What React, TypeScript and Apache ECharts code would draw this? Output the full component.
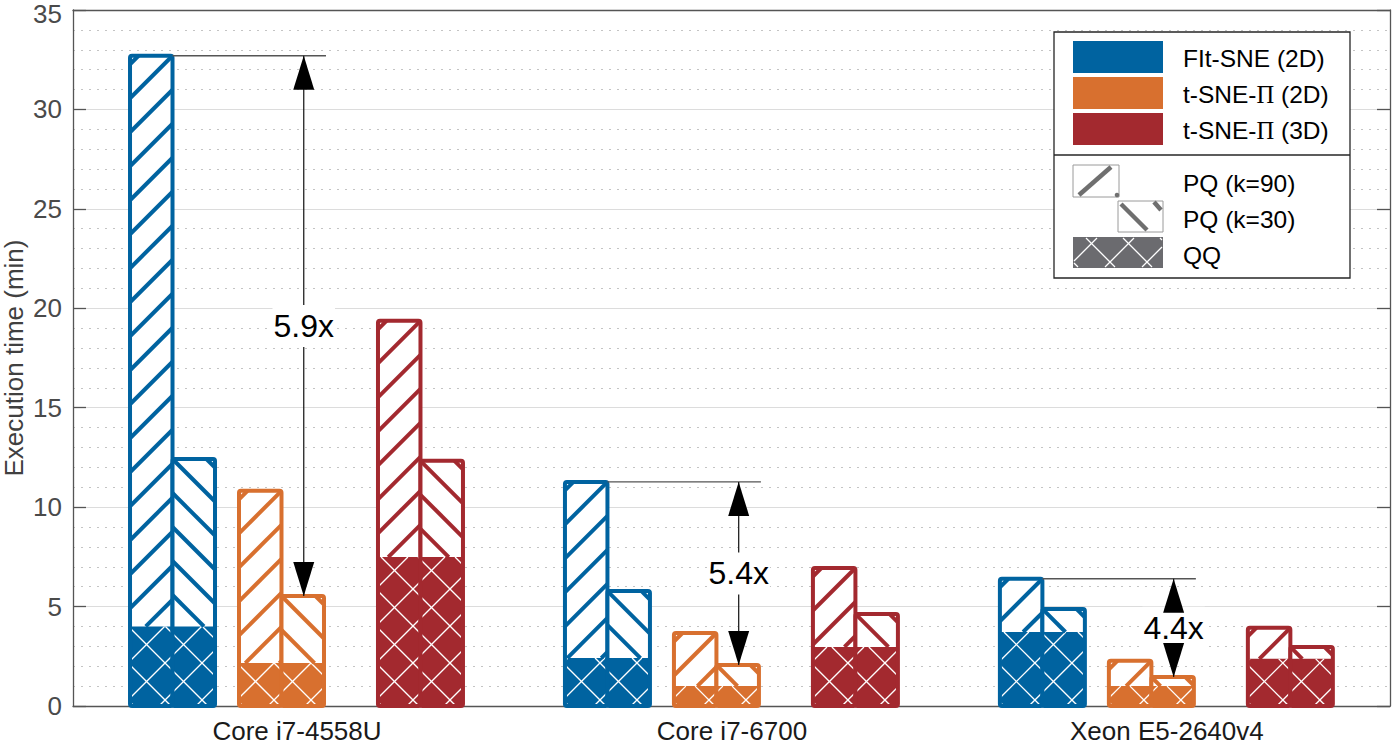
import React, { useEffect, useRef } from 'react';
import * as echarts from 'echarts';

// ---------------- data ----------------
const categories = ['Core i7-4558U', 'Core i7-6700', 'Xeon E5-2640v4'];
const fitsneQQ = [4.0, 2.41, 3.72];
const fitsneK90 = [32.7, 11.27, 6.4];
const fitsneK30 = [12.42, 5.78, 4.88];
const tsne2dQQ = [2.16, 1.0, 1.0];
const tsne2dK90 = [10.82, 3.67, 2.27];
const tsne2dK30 = [5.53, 2.06, 1.46];
const tsne3dQQ = [7.49, 2.97, 2.37];
const tsne3dK90 = [19.37, 6.94, 3.93];
const tsne3dK30 = [12.33, 4.63, 2.97];
const speedupLabels = ['5.9x', '5.4x', '4.4x'];
const methodNames = ['FIt-SNE (2D)', 't-SNE-Π (2D)', 't-SNE-Π (3D)'];
const patternNames = ['PQ (k=90)', 'PQ (k=30)', 'QQ'];

// ---------------- styling / layout ----------------
const FONT = "'Liberation Sans', Arial, Helvetica, sans-serif";
const BLUE = '#0063A0';
const ORANGE = '#D8702F';
const RED = '#A3292F';
const COLORS = [BLUE, ORANGE, RED];
const REF_UNIT = 435; // px per category unit in layout constants below
const PAIR_OFF = [-169, -60, 79]; // px offset of each bar pair from group centre
const PAIR_W = 89;
const LW = 4;
const HATCH_S = 34;
const DIAM_S = 37;

type Seg = [number, number, number, number];

function diagLines(x0: number, y0: number, x1: number, y1: number, anchorX: number, anchorY: number, S: number, slash: boolean): Seg[] {
  const out: Seg[] = [];
  if (x1 - x0 < 0.5 || y1 - y0 < 0.5) return out;
  if (slash) {
    const a = anchorX + anchorY;
    const nMin = Math.ceil((x0 + y0 - a) / S);
    const nMax = Math.floor((x1 + y1 - a) / S);
    for (let n = nMin; n <= nMax; n++) {
      const c = a + n * S;
      const xs = Math.max(x0, c - y1);
      const xe = Math.min(x1, c - y0);
      if (xe - xs > 0.3) out.push([xs, c - xs, xe, c - xe]);
    }
  } else {
    const a = anchorY - anchorX;
    const nMin = Math.ceil((y0 - x1 - a) / S);
    const nMax = Math.floor((y1 - x0 - a) / S);
    for (let n = nMin; n <= nMax; n++) {
      const c = a + n * S;
      const xs = Math.max(x0, y0 - c);
      const xe = Math.min(x1, y1 - c);
      if (xe - xs > 0.3) out.push([xs, xs + c, xe, xe + c]);
    }
  }
  return out;
}

function segEls(segs: Seg[], stroke: string, lineWidth: number) {
  return segs.map((s) => ({
    type: 'line',
    shape: { x1: s[0], y1: s[1], x2: s[2], y2: s[3] },
    style: { stroke, lineWidth, lineCap: 'butt' },
  }));
}

function barSeries(name: string, totals: number[], qqs: number[], pairIdx: number, isK30: boolean) {
  const color = COLORS[pairIdx];
  return {
    type: 'custom',
    name,
    coordinateSystem: 'cartesian2d',
    xAxisIndex: 0,
    yAxisIndex: 0,
    encode: { x: 0, y: [1, 2] },
    data: totals.map((t, i) => [i + 1, t, qqs[i]]),
    renderItem: (params: any, api: any) => {
      const g = api.value(0);
      const total = api.value(1);
      const qq = api.value(2);
      const scale = api.size([1, 0])[0] / REF_UNIT;
      const base = api.coord([g, 0]);
      const cx = base[0];
      const y0 = base[1];
      const yT = api.coord([g, total])[1];
      const yQ = api.coord([g, qq])[1];
      const pairL = cx + PAIR_OFF[pairIdx] * scale;
      const pairW = PAIR_W * scale;
      const mid = pairL + pairW / 2;
      const xl = isK30 ? mid : pairL + LW / 2;
      const xr = isK30 ? pairL + pairW - LW / 2 : mid;
      const children: any[] = [];
      children.push({ type: 'rect', shape: { x: xl, y: yT, width: xr - xl, height: y0 - yT }, style: { fill: '#fff' } });
      children.push({ type: 'rect', shape: { x: xl, y: yQ, width: xr - xl, height: y0 - yQ }, style: { fill: color } });
      const ax = pairL;
      const ay = y0 - 6;
      children.push(...segEls(diagLines(xl, yQ, xr, y0, ax, ay, DIAM_S, true), '#ffffff', 1.3));
      children.push(...segEls(diagLines(xl, yQ, xr, y0, ax, ay, DIAM_S, false), '#ffffff', 1.3));
      if (isK30) {
        children.push(...segEls(diagLines(xl, yT, xr, yQ, xl, yT, HATCH_S, false), color, LW));
      } else {
        children.push(...segEls(diagLines(xl, yT, xr, yQ, xr, yT, HATCH_S, true), color, LW));
      }
      children.push({
        type: 'rect',
        shape: { x: xl, y: yT, width: xr - xl, height: y0 - yT, r: 2 },
        style: { fill: 'none', stroke: color, lineWidth: LW },
      });
      return { type: 'group', children };
    },
  };
}

const annotationSeries = {
  type: 'custom',
  name: 'speedup',
  coordinateSystem: 'cartesian2d',
  xAxisIndex: 0,
  yAxisIndex: 0,
  z: 5,
  encode: { x: 0, y: [1, 2] },
  data: categories.map((_, i) => [i + 1, fitsneK90[i], tsne2dK30[i]]),
  renderItem: (params: any, api: any) => {
    const idx = params.dataIndex;
    const g = api.value(0);
    const scale = api.size([1, 0])[0] / REF_UNIT;
    const cx = api.coord([g, 0])[0];
    const yTop = api.coord([g, api.value(1)])[1];
    const yBot = api.coord([g, api.value(2)])[1];
    const lx0 = cx + (PAIR_OFF[0] + PAIR_W / 2) * scale;
    const lx1 = cx + (PAIR_OFF[1] + PAIR_W) * scale;
    const ax = cx + (PAIR_OFF[1] + PAIR_W * 0.75) * scale;
    const ym = (yTop + yBot) / 2;
    const hw = 10.5;
    const hh = 34;
    return {
      type: 'group',
      children: [
        { type: 'line', shape: { x1: lx0, y1: yTop, x2: lx1, y2: yTop }, style: { stroke: '#555', lineWidth: 1.3 } },
        { type: 'line', shape: { x1: ax, y1: yTop, x2: ax, y2: yBot }, style: { stroke: '#222', lineWidth: 1.3 } },
        {
          type: 'text',
          style: {
            text: speedupLabels[idx], x: ax, y: ym, align: 'center', verticalAlign: 'middle',
            fontSize: 32, fontFamily: FONT, fill: '#000', backgroundColor: '#fff', padding: [5, 1],
          },
        },
        { type: 'polygon', shape: { points: [[ax, yTop], [ax - hw, yTop + hh], [ax + hw, yTop + hh]] }, style: { fill: '#000' } },
        { type: 'polygon', shape: { points: [[ax, yBot], [ax - hw, yBot - hh], [ax + hw, yBot - hh]] }, style: { fill: '#000' } },
      ],
    };
  },
};

function legendGraphic() {
  const els: any[] = [];
  const L = 1054, T = 32, W = 296, H = 246;
  els.push({ type: 'rect', shape: { x: L, y: T, width: W, height: H }, style: { fill: '#fff', stroke: '#262626', lineWidth: 1.3 } });
  els.push({ type: 'line', shape: { x1: L, y1: 155, x2: L + W, y2: 155 }, style: { stroke: '#262626', lineWidth: 1.3 } });
  const swY = [41, 77, 113];
  methodNames.forEach((nm, i) => {
    els.push({ type: 'rect', shape: { x: 1073, y: swY[i], width: 90, height: 32 }, style: { fill: COLORS[i] } });
    const parts = nm.split('Π');
    const text = parts.length > 1 ? `{a|${parts[0]}}{b|Π}{a|${parts[1]}}` : `{a|${nm}}`;
    els.push({
      type: 'text',
      style: {
        text, x: 1183, y: swY[i] + 17, verticalAlign: 'middle', align: 'left',
        rich: {
          a: { fontSize: 24.5, fontFamily: FONT, fill: '#000' },
          b: { fontSize: 24.5, fontFamily: "'Liberation Serif', 'DejaVu Serif', serif", fill: '#000' },
        },
      },
    });
  });
  // PQ k=90 icon
  els.push({ type: 'rect', shape: { x: 1073, y: 165, width: 46, height: 32 }, style: { fill: '#fff', stroke: '#9a9a9a', lineWidth: 1 } });
  els.push({ type: 'line', shape: { x1: 1079, y1: 195, x2: 1111, y2: 167 }, style: { stroke: '#6f6f6f', lineWidth: 4.5 } });
  els.push({ type: 'circle', shape: { cx: 1117, cy: 195, r: 2.3 }, style: { fill: '#6f6f6f' } });
  // PQ k=30 icon
  els.push({ type: 'rect', shape: { x: 1118, y: 201, width: 45, height: 31 }, style: { fill: '#fff', stroke: '#9a9a9a', lineWidth: 1 } });
  els.push({ type: 'line', shape: { x1: 1121, y1: 204, x2: 1147, y2: 230 }, style: { stroke: '#6f6f6f', lineWidth: 4.5 } });
  els.push({ type: 'line', shape: { x1: 1154, y1: 202, x2: 1161, y2: 210 }, style: { stroke: '#6f6f6f', lineWidth: 4.5 } });
  // QQ icon
  els.push({ type: 'rect', shape: { x: 1073, y: 237, width: 90, height: 31 }, style: { fill: '#6b6b6f' } });
  diagLines(1074, 238, 1162, 267, 1073, 262, DIAM_S, true).forEach((s) =>
    els.push({ type: 'line', shape: { x1: s[0], y1: s[1], x2: s[2], y2: s[3] }, style: { stroke: '#fff', lineWidth: 1.3 } }));
  diagLines(1074, 238, 1162, 267, 1073, 262, DIAM_S, false).forEach((s) =>
    els.push({ type: 'line', shape: { x1: s[0], y1: s[1], x2: s[2], y2: s[3] }, style: { stroke: '#fff', lineWidth: 1.3 } }));
  const pY = [183, 219, 255];
  patternNames.forEach((nm, i) => {
    els.push({ type: 'text', style: { text: nm, x: 1183, y: pY[i], verticalAlign: 'middle', align: 'left', fontSize: 24.5, fontFamily: FONT, fill: '#000' } });
  });
  return els.map((e) => ({ ...e, z: 100 }));
}

export default function App() {
  const ref = useRef<HTMLDivElement>(null);
  useEffect(() => {
    if (!ref.current) return;
    const chart = echarts.init(ref.current, null, { renderer: 'svg' });
    const axisLineStyle = { color: '#555', width: 1.3 };
    const option: any = {
      animation: false,
      backgroundColor: '#fff',
      grid: { left: 73, right: 6, top: 10, bottom: 47, containLabel: false, outerBoundsMode: 'none' },
      xAxis: [
        {
          type: 'value', min: 0.485, max: 3.513, position: 'bottom',
          axisLine: { show: true, onZero: false, lineStyle: axisLineStyle },
          axisTick: { show: false },
          splitLine: { show: false },
          axisLabel: {
            customValues: [1, 2, 3],
            formatter: (v: number) => categories[Math.round(v) - 1] ?? '',
            fontSize: 26, color: '#1a1a1a', fontFamily: FONT, margin: 12,
          },
        },
        {
          type: 'value', min: 0.485, max: 3.513, position: 'top',
          axisLine: { show: true, onZero: false, lineStyle: axisLineStyle },
          axisTick: { show: false }, axisLabel: { show: false }, splitLine: { show: false },
        },
      ],
      yAxis: [
        {
          type: 'value', min: 0, max: 35, interval: 5, position: 'left',
          name: 'Execution time (min)', nameLocation: 'middle', nameGap: 46, nameMoveOverlap: false,
          nameTextStyle: { fontSize: 26, color: '#404040', fontFamily: FONT },
          axisLine: { show: true, onZero: false, lineStyle: axisLineStyle },
          axisTick: { show: true, inside: true, length: 13, lineStyle: axisLineStyle },
          axisLabel: {
            fontSize: 26, color: '#4a4a4a', fontFamily: FONT, margin: 11,
            formatter: (v: number) => (v === 35 ? `{top|${v}}` : `${v}`),
            rich: { top: { fontSize: 26, color: '#4a4a4a', fontFamily: FONT, padding: [8, 0, 0, 0] } },
          },
          splitLine: { show: true, lineStyle: { color: '#dcdcdc', width: 1 } },
          minorTick: { show: false, splitNumber: 5 },
          minorSplitLine: { show: true, lineStyle: { color: '#c4c4c4', width: 1, type: [2, 6] } },
        },
        {
          type: 'value', min: 0, max: 35, interval: 5, position: 'right',
          axisLine: { show: true, onZero: false, lineStyle: axisLineStyle },
          axisTick: { show: true, inside: true, length: 13, lineStyle: axisLineStyle },
          axisLabel: { show: false }, splitLine: { show: false },
        },
      ],
      series: [
        barSeries('FIt-SNE (2D) PQ k=90', fitsneK90, fitsneQQ, 0, false),
        barSeries('FIt-SNE (2D) PQ k=30', fitsneK30, fitsneQQ, 0, true),
        barSeries('t-SNE-Π (2D) PQ k=90', tsne2dK90, tsne2dQQ, 1, false),
        barSeries('t-SNE-Π (2D) PQ k=30', tsne2dK30, tsne2dQQ, 1, true),
        barSeries('t-SNE-Π (3D) PQ k=90', tsne3dK90, tsne3dQQ, 2, false),
        barSeries('t-SNE-Π (3D) PQ k=30', tsne3dK30, tsne3dQQ, 2, true),
        annotationSeries,
      ],
      graphic: legendGraphic(),
    };
    chart.setOption(option);
    return () => chart.dispose();
  }, []);
  return <div ref={ref} style={{ position: 'absolute', left: 0, top: 0, width: 1396, height: 753 }} />;
}
